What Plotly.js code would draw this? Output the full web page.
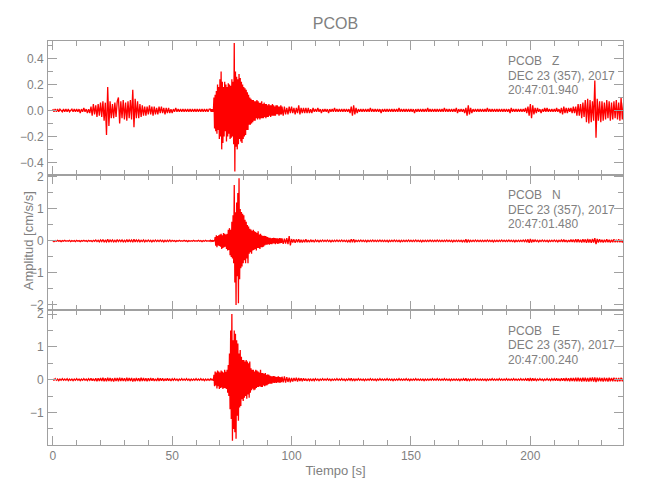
<!DOCTYPE html>
<html>
<head>
<meta charset="utf-8">
<script src="https://cdn.plot.ly/plotly-3.0.1.min.js"></script>
<style>html,body{margin:0;padding:0;background:#fff;}#chart{width:650px;height:500px;}</style>
</head>
<body>
<div id="chart"></div>
<script>
// Sampling of the traces (seconds) and amplitude unit (values below are in 0.01 cm/s/s)
const SAMPLE_INTERVAL = 0.5;     // whole record
const EVENT_INTERVAL = 0.25;     // finer reading of the strong-motion window
const EVENT_START = 66;          // s
const UNIT = 0.01;

// Station / component labels
const station = "PCOB";
const components = ["Z", "N", "E"];
const dateLabel = "DEC 23 (357), 2017";
const startTimes = ["20:47:01.940", "20:47:01.480", "20:47:00.240"];
const xTitle = "Tiempo [s]";
const yTitle = "Amplitud [cm/s/s]";

// Vertical component (Z), 0.01 cm/s/s, every 0.5 s
const traceZ = [
 1,-1,1,-1,1,-1,1,0,-1,1,-1,1,-1,1,-1,0,1,-1,1,-1,
 1,-1,1,-2,1,-1,2,-1,1,-2,1,-2,3,-4,5,-3,4,-5,5,-4,
 6,-5,7,-8,6,-19,18,-12,7,-6,5,-6,6,-5,7,10,-10,7,-6,8,
 -7,6,-8,7,-6,8,-7,16,-13,9,-6,7,-6,5,-5,4,-4,3,-4,3,
 -3,4,-3,3,-4,3,-3,2,-3,3,-2,3,-2,2,-3,2,-2,2,-2,1,
 -2,1,-1,2,-1,1,-1,1,-1,1,-1,1,-1,1,-1,1,-1,1,-1,1,
 -1,1,-1,1,-1,1,-1,1,-1,1,-1,1,-1,1,-1,12,-18,16,-20,22,
 -22,30,-30,20,-18,20,-22,21,-20,22,-22,24,52,-47,26,-24,26,-22,24,-20,
 17,-19,14,-12,10,-9,8,-8,7,-8,8,-6,7,-7,6,-5,6,-6,5,-5,
 5,-4,4,-5,4,-4,3,-4,4,-3,3,-3,3,-4,3,-3,2,-3,3,-2,
 3,-2,2,-3,2,-2,4,-3,2,-2,2,-2,2,-2,2,-2,1,-2,2,-1,
 1,-1,2,-1,1,-2,1,-1,1,-1,1,-2,1,-1,1,-1,2,-1,1,-1,
 1,-1,1,-1,1,-1,1,-1,1,-2,3,-4,4,-3,2,-2,1,-1,1,-1,
 1,-1,1,-1,1,-1,2,-1,1,-1,1,-1,1,-1,1,-2,1,-1,1,-1,
 1,-1,1,-1,1,-1,1,-1,1,-1,2,-1,1,-1,1,-1,1,-1,1,-1,
 1,-1,1,-2,1,-1,1,-1,1,-1,1,-1,1,-1,2,-1,1,-1,1,-1,
 1,-1,1,-1,1,-1,1,-1,2,-1,1,-1,1,-1,1,-1,1,-1,2,-2,
 1,-1,1,-1,1,-2,2,-4,4,-3,2,-2,1,-1,1,-1,1,-1,1,-1,
 1,-1,1,-1,2,-1,1,-1,1,-1,1,-1,1,-1,1,-1,1,-1,1,-1,
 1,-1,1,-2,2,-1,1,-1,1,-1,1,-1,1,-1,1,-1,2,-2,3,-4,
 5,-6,4,-3,2,-2,2,-1,1,-2,1,-1,2,-1,2,-1,1,-1,1,-1,
 1,-1,2,-1,1,-2,2,-3,3,-2,2,-2,2,-1,2,-2,3,-2,3,-4,
 5,-4,5,-6,6,-5,8,-9,9,-10,8,-9,7,-8,23,-21,9,-8,7,-9,
 7,-8,6,-7,8,-6,7,-8,6,-7,7,-6,8,-7,6,-8,10,-7,6,-6
];
// Z, strong-motion window 66.0-95.75 s, every 0.25 s
const eventZ = [
 1,-1,1,-1,1,-1,10,-14,12,-16,15,-18,20,-15,18,-22,24,-20,30,-30,
 22,-25,18,-20,22,-16,20,-24,18,-20,21,-18,20,-22,19,-21,24,-20,22,-26,
 52,-47,30,-28,26,-30,24,-26,28,-22,25,-24,22,-25,20,-22,18,-20,17,-19,
 16,-15,14,-15,12,-11,10,-11,9,-10,8,-9,8,-8,7,-8,7,-6,8,-7,
 7,-6,6,-7,6,-6,7,-6,5,-6,6,-5,5,-6,5,-5,4,-5,5,-4,
 4,-5,4,-4,5,-4,4,-4,3,-4,4,-3,4,-3,3,-4,3,-3,4,-3
];

// North component (N), 0.01 cm/s/s, every 0.5 s
const traceN = [
 1,-2,1,-1,2,-1,1,-2,1,-1,2,-1,1,-1,2,-2,1,-1,1,-2,
 2,-1,1,-2,1,-1,2,-1,1,-2,2,-1,1,-2,2,-1,3,-2,2,-3,
 3,-2,4,-3,2,-3,5,-4,3,-2,3,-3,2,-3,4,-2,3,-2,3,-3,
 2,-3,4,-3,3,-2,3,-4,5,-3,3,-2,3,-3,2,-2,3,-3,2,-2,
 3,-2,2,-3,2,-2,3,-2,2,-2,3,-2,2,-3,2,-2,2,-2,3,-2,
 2,-1,1,-2,1,-1,2,-1,1,-1,2,-1,1,-2,1,-1,1,-1,2,-1,
 1,-1,2,-1,1,-2,1,-1,2,-1,1,-1,2,-1,1,-2,15,-20,18,-14,
 20,-25,18,-22,25,-20,22,-30,35,-40,60,-80,175,-200,120,-195,196,-90,100,-85,
 80,-60,66,-70,50,-40,35,-38,35,-30,32,-35,30,-25,28,-22,20,-22,18,-20,
 15,-12,10,-12,10,-9,10,-8,9,-10,8,-7,8,-9,7,-8,9,-10,15,-14,
 6,-5,5,-6,5,-4,5,-5,4,-5,4,-4,5,-4,3,-4,4,-3,3,-4,
 3,-2,2,-3,2,-2,3,-2,2,-2,3,-2,2,-3,2,-2,2,-2,3,-2,
 2,-2,3,-2,2,-2,2,-3,2,-3,5,-4,5,-3,2,-2,2,-2,3,-2,
 2,-2,2,-3,2,-2,2,-2,3,-2,2,-2,2,-2,3,-2,2,-2,2,-2,
 2,-3,2,-2,2,-2,3,-2,2,-2,2,-3,2,-2,2,-2,2,-2,3,-2,
 2,-2,2,-2,3,-2,2,-2,2,-3,2,-2,2,-2,2,-2,3,-2,2,-2,
 2,-2,3,-2,2,-2,2,-2,2,-2,3,-2,2,-2,2,-3,2,-2,2,-2,
 2,-2,2,-3,3,-4,5,-5,4,-3,2,-2,2,-2,3,-2,2,-2,2,-2,
 2,-2,2,-2,3,-2,2,-2,2,-3,2,-2,2,-2,2,-2,3,-2,2,-2,
 2,-2,3,-2,2,-2,2,-3,2,-2,2,-2,2,-2,3,-2,3,-4,5,-6,
 6,-5,4,-3,3,-2,2,-3,2,-2,3,-2,2,-2,2,-3,2,-2,2,-2,
 3,-2,2,-3,2,-2,3,-3,4,-3,3,-4,3,-3,4,-3,4,-4,5,-4,
 5,-4,4,-5,5,-4,5,-6,6,-5,5,-6,6,-5,9,-10,6,-5,5,-4,
 4,-5,4,-4,5,-4,4,-5,4,-4,5,-4,4,-4,5,-4,4,-5,4,-4
];
// N, strong-motion window 66.0-95.75 s, every 0.25 s
const eventN = [
 2,-1,2,-2,1,-2,2,-1,12,-15,18,-20,15,-14,18,-16,20,-18,22,-25,
 18,-22,25,-20,22,-18,20,-25,22,-30,35,-28,40,-45,35,-50,60,-55,80,-70,
 175,-130,90,-200,120,-110,150,-195,196,-120,100,-85,90,-80,85,-70,80,-60,66,-70,
 60,-55,50,-70,45,-40,38,-35,36,-40,32,-30,35,-28,30,-25,28,-30,25,-22,
 30,-22,20,-25,22,-20,18,-20,15,-18,16,-14,15,-12,14,-12,12,-10,10,-12,
 10,-9,8,-10,9,-8,10,-8,9,-10,8,-7,8,-9,7,-8,9,-7,8,-6
];

// East component (E), 0.01 cm/s/s, every 0.5 s
const traceE = [
 2,-2,3,-2,2,-3,2,-2,3,-2,2,-2,3,-3,2,-2,2,-3,2,-2,
 3,-2,2,-3,2,-2,3,-2,2,-3,3,-2,4,-3,3,-4,4,-5,4,-4,
 5,-4,6,-5,4,-5,6,-4,5,-5,4,-6,5,-4,5,-5,6,-4,5,-4,
 4,-5,6,-4,5,-4,5,-6,4,-5,5,-4,4,-5,6,-4,5,-4,4,-5,
 4,-4,5,-3,4,-4,3,-4,5,-4,4,-3,4,-4,3,-3,4,-3,3,-4,
 3,-2,3,-2,2,-3,2,-2,3,-2,2,-2,3,-2,2,-3,2,-2,2,-2,
 3,-2,2,-2,3,-2,2,-3,2,-2,2,-2,3,-2,2,15,-20,25,-18,22,
 -27,28,-20,25,-28,22,-25,30,-40,80,200,-186,150,-120,140,-180,110,-125,80,-85,
 60,-60,55,-50,60,-58,55,-45,30,-32,30,-28,25,-30,30,-25,22,-20,20,-22,
 20,-18,18,-20,15,-12,10,-12,10,-9,8,-10,9,-8,10,-9,8,-7,6,-8,
 5,-6,5,-4,6,-6,5,-4,4,-5,4,-3,3,-4,3,-3,3,-4,3,-3,
 3,-2,2,-3,2,-2,3,-2,2,-2,3,-2,2,-3,2,-2,2,-2,3,-2,
 2,-2,3,-2,2,-3,2,-2,3,-2,4,-4,3,-3,2,-2,3,-2,2,-2,
 2,-3,2,-2,2,-2,3,-2,2,-2,2,-3,2,-2,3,-2,2,-2,2,-2,
 3,-2,2,-2,2,-3,2,-2,2,-2,3,-2,2,-2,2,-2,3,-2,2,-3,
 2,-2,2,-2,3,-2,2,-2,2,-2,2,-3,2,-2,2,-2,2,-2,3,-2,
 2,-2,3,-2,2,-2,2,-2,3,-2,2,-2,2,-3,2,-2,2,-2,2,-2,
 2,-3,2,-2,3,-3,4,-4,3,-3,2,-2,2,-2,3,-2,2,-2,2,-2,
 2,-2,2,-3,2,-2,2,-2,3,-2,2,-2,2,-2,3,-2,2,-2,2,-2,
 3,-2,2,-2,2,-2,3,-2,2,-2,2,-2,3,-2,2,-2,3,-3,4,-4,
 5,-4,4,-3,3,-3,2,-2,3,-2,2,-3,2,-2,3,-2,2,-3,3,-2,
 3,-3,4,-3,3,-4,4,-3,4,-4,5,-4,4,-5,5,-4,5,-5,6,-5,
 6,-5,5,-6,6,-5,6,-6,5,-6,6,-5,7,-6,7,-7,6,-5,6,-5,
 5,-6,6,-5,5,-6,6,-5,5,-5,6,-5,5,-6,5,-5,6,-5,5,-5
];
// E, strong-motion window 66.0-95.75 s, every 0.25 s
const eventE = [
 2,-2,3,-2,2,-3,15,-20,25,-18,22,-27,28,-20,25,-28,22,-25,28,-24,
 25,-28,22,-25,30,-26,24,-28,30,-40,45,-50,80,-90,150,-120,200,-186,120,-150,
 150,-160,140,-180,120,-110,110,-125,80,-85,90,-80,70,-60,60,-65,60,-55,55,-50,
 60,-58,55,-45,50,-55,55,-40,35,-32,30,-28,30,-32,25,-30,30,-25,28,-22,
 25,-22,22,-20,30,-22,20,-22,20,-18,18,-20,20,-18,15,-17,16,-14,15,-12,
 12,-12,10,-12,10,-9,11,-10,10,-9,8,-10,9,-8,10,-9,8,-9,7,-8
];

// Merge the whole record with the finer window reading (window replaces the coarse samples there)
function buildSeries(base, ev) {
  const evEnd = EVENT_START + ev.length * EVENT_INTERVAL;
  const pts = [];
  base.forEach((v, i) => {
    const t = i * SAMPLE_INTERVAL;
    if (t < EVENT_START || t >= evEnd) pts.push([t, v]);
  });
  ev.forEach((v, i) => pts.push([EVENT_START + i * EVENT_INTERVAL, v]));
  pts.sort((a, b) => a[0] - b[0]);
  return {x: pts.map(p => p[0]), y: pts.map(p => p[1] * UNIT)};
}

const series = [buildSeries(traceZ, eventZ), buildSeries(traceN, eventN), buildSeries(traceE, eventE)];

const FONT = "'Liberation Sans', Arial, sans-serif";
const AX = '#a0a0a0';
const TXT = '#808080';
const RED = '#ff0000';

const axesX = ['x3', 'x2', 'x'];
const axesY = ['y', 'y2', 'y3'];

const data = series.map((s, k) => ({
  type: 'scatter',
  mode: 'lines',
  x: s.x,
  y: s.y,
  xaxis: axesX[k],
  yaxis: axesY[k],
  line: {color: RED, width: 1.3, simplify: false},
  hoverinfo: 'skip',
  showlegend: false
}));

const xBase = {
  range: [-2, 238.8],
  dtick: 50, tick0: 0,
  ticks: 'inside', ticklen: 9, tickwidth: 1, tickcolor: AX,
  minor: {dtick: 10, tick0: 0, ticks: 'inside', ticklen: 5, tickcolor: AX},
  showline: true, linecolor: AX, linewidth: 1, mirror: 'allticks',
  showgrid: false, zeroline: false,
  tickfont: {family: FONT, size: 12, color: TXT}
};
const yBase = {
  ticks: 'inside', ticklen: 9, tickwidth: 1, tickcolor: AX,
  showline: true, linecolor: AX, linewidth: 1, mirror: 'allticks',
  showgrid: false, zeroline: false,
  tickfont: {family: FONT, size: 12, color: TXT},
  ticklabelstandoff: 1
};

const annY = [[0.9505, 0.914, 0.8787], [0.6188, 0.5817, 0.5463], [0.2822, 0.2475, 0.2104]];
const annotations = [];
components.forEach((c, k) => {
  const lines = [station + '\u00a0\u00a0\u00a0' + c, dateLabel, startTimes[k]];
  lines.forEach((txt, j) => annotations.push({
    text: txt, xref: 'paper', yref: 'paper', x: 0.796, y: annY[k][j],
    xanchor: 'left', yanchor: 'middle', showarrow: false,
    font: {family: FONT, size: 12, color: TXT}
  }));
});
// vertical axis title shared by the three panels
annotations.push({
  text: yTitle, xref: 'paper', yref: 'paper', x: -0.0348, y: 0.507,
  xanchor: 'center', yanchor: 'middle', textangle: -90, showarrow: false,
  font: {family: FONT, size: 13, color: TXT}
});

const layout = {
  width: 650, height: 500,
  margin: {l: 48, r: 27, t: 41, b: 55},
  paper_bgcolor: '#ffffff', plot_bgcolor: '#ffffff',
  title: {text: station, font: {family: FONT, size: 16, color: TXT},
          x: 0.516, xanchor: 'center', y: 0.953, yanchor: 'middle'},
  xaxis: Object.assign({}, xBase, {anchor: 'y3', domain: [0, 1],
    title: {text: xTitle, font: {family: FONT, size: 13, color: TXT}, standoff: 3}}),
  xaxis2: Object.assign({}, xBase, {anchor: 'y2', matches: 'x', showticklabels: false}),
  xaxis3: Object.assign({}, xBase, {anchor: 'y', matches: 'x', showticklabels: false}),
  yaxis: Object.assign({}, yBase, {domain: [0.6675, 1], anchor: 'x3', range: [-0.50, 0.535],
    dtick: 0.2, tick0: 0, tickformat: '.1f',
    minor: {dtick: 0.1, tick0: 0, ticks: 'inside', ticklen: 5, tickcolor: AX}}),
  yaxis2: Object.assign({}, yBase, {domain: [0.334, 0.6675], anchor: 'x2', range: [-2.16, 2.05],
    dtick: 1, tick0: 0,
    minor: {dtick: 0.5, tick0: 0, ticks: 'inside', ticklen: 5, tickcolor: AX}}),
  yaxis3: Object.assign({}, yBase, {domain: [0, 0.334], anchor: 'x', range: [-1.99, 2.12],
    dtick: 1, tick0: 0,
    minor: {dtick: 0.5, tick0: 0, ticks: 'inside', ticklen: 5, tickcolor: AX}}),
  annotations: annotations
};

Plotly.newPlot('chart', data, layout, {displayModeBar: false, staticPlot: true});
</script>
</body>
</html>
